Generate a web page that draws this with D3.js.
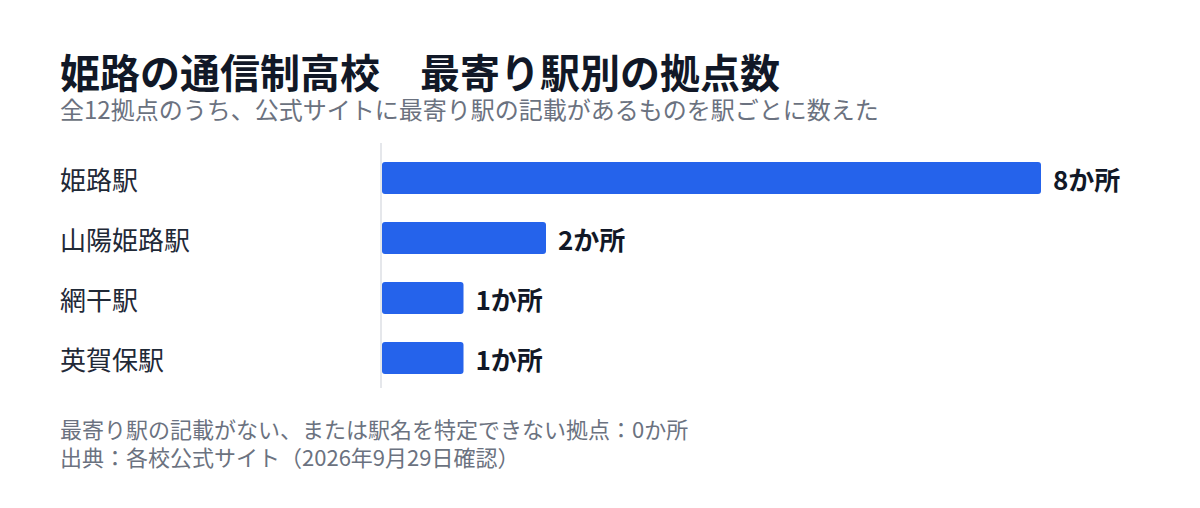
<!DOCTYPE html>
<html lang="ja">
<head>
<meta charset="utf-8">
<script src="https://cdn.jsdelivr.net/npm/d3@7"></script>
<style>
  html, body { margin: 0; padding: 0; background: #fff; }
  body { font-family: "Noto Sans CJK JP", "Noto Sans", sans-serif; }
  svg text { font-family: "Noto Sans CJK JP", "Noto Sans", sans-serif; }
</style>
</head>
<body>
<svg id="chart" width="1200" height="508"></svg>
<script>
const stations = ['姫路駅', '山陽姫路駅', '網干駅', '英賀保駅'];
const counts = [8, 2, 1, 1];
const unit = 'か所';

const title = '姫路の通信制高校　最寄り駅別の拠点数';
const subtitle = '全12拠点のうち、公式サイトに最寄り駅の記載があるものを駅ごとに数えた';
const notes = [
  '最寄り駅の記載がない、または駅名を特定できない拠点：0か所',
  '出典：各校公式サイト（2026年9月29日確認）'
];

const margin = {top: 148, left: 382, right: 158, bottom: 120};
const width = 1200, height = 508;

const svg = d3.select('#chart');

svg.append('text')
  .attr('x', 60).attr('y', 88)
  .attr('font-size', 40).attr('font-weight', 700)
  .attr('fill', '#111827')
  .text(title);

svg.append('text')
  .attr('x', 60).attr('y', 119)
  .attr('font-size', 24)
  .attr('fill', '#6b7280')
  .text(subtitle);

const data = stations.map((s, i) => ({station: s, count: counts[i]}));

const x = d3.scaleLinear()
  .domain([0, d3.max(counts)])
  .range([margin.left, width - margin.right]);

const y = d3.scaleBand()
  .domain(stations)
  .range([margin.top, height - margin.bottom])
  .paddingInner(0.47)
  .paddingOuter(0.235);

// baseline
svg.append('line')
  .attr('x1', x(0) - 1).attr('x2', x(0) - 1)
  .attr('y1', margin.top - 5).attr('y2', height - margin.bottom)
  .attr('stroke', '#e5e7eb').attr('stroke-width', 2);

svg.selectAll('.bar')
  .data(data)
  .enter()
  .append('rect')
  .attr('class', 'bar')
  .attr('x', x(0))
  .attr('y', d => y(d.station))
  .attr('width', d => x(d.count) - x(0) - 1)
  .attr('height', y.bandwidth())
  .attr('rx', 3)
  .attr('fill', '#2563eb');

svg.selectAll('.cat')
  .data(data)
  .enter()
  .append('text')
  .attr('class', 'cat')
  .attr('x', 60)
  .attr('y', d => y(d.station) + y.bandwidth() / 2)
  .attr('dy', '0.48em')
  .attr('font-size', 26)
  .attr('fill', '#1f2937')
  .text(d => d.station);

svg.selectAll('.val')
  .data(data)
  .enter()
  .append('text')
  .attr('class', 'val')
  .attr('x', d => x(d.count) + 11)
  .attr('y', d => y(d.station) + y.bandwidth() / 2)
  .attr('dy', '0.48em')
  .attr('font-size', 26)
  .attr('font-weight', 700)
  .attr('fill', '#111827')
  .text(d => d.count + unit);

svg.selectAll('.note')
  .data(notes)
  .enter()
  .append('text')
  .attr('class', 'note')
  .attr('x', 60)
  .attr('y', (d, i) => 438 + i * 28)
  .attr('font-size', 22)
  .attr('fill', '#6b7280')
  .text(d => d);
</script>
</body>
</html>
